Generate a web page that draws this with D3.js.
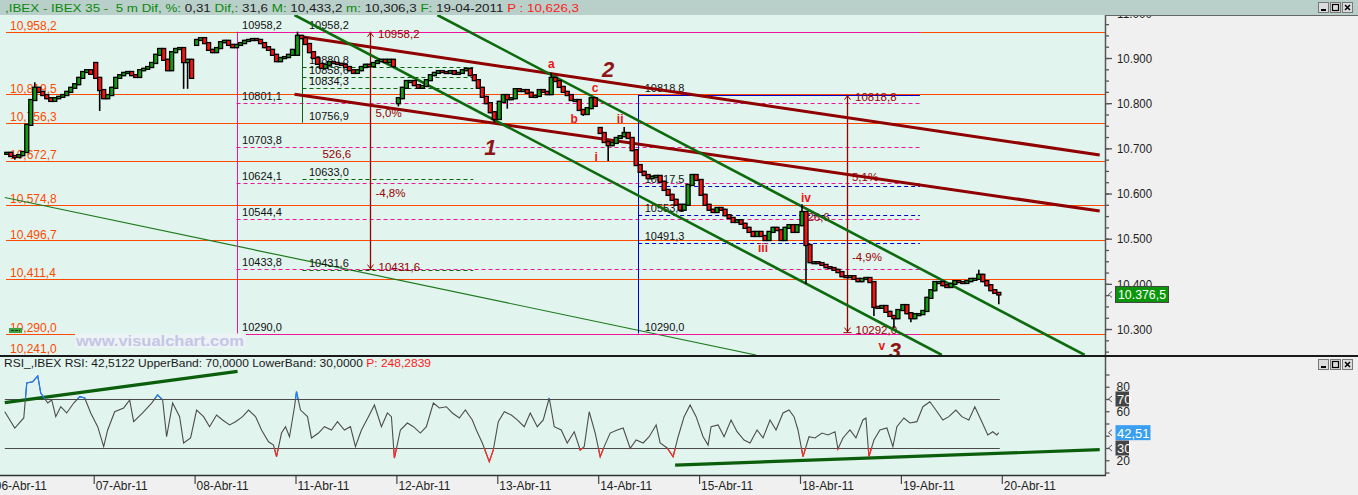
<!DOCTYPE html>
<html>
<head>
<meta charset="utf-8">
<script src="https://cdn.jsdelivr.net/npm/d3@7/dist/d3.min.js"></script>
<style>
html,body{margin:0;padding:0;overflow:hidden;background:#f0f0f0}
svg{display:block}
text{font-family:"Liberation Sans",Arial,sans-serif;white-space:pre}
</style>
</head>
<body>
<svg id="chart" width="1358" height="495"></svg>
<script>
// ================= DATA =================
const dayLabels = ["06-Abr-11","07-Abr-11","08-Abr-11","11-Abr-11","12-Abr-11","13-Abr-11","14-Abr-11","15-Abr-11","18-Abr-11","19-Abr-11","20-Abr-11"];
const barsPerDay = 101;   // 5-minute bars per session
const barStep = 4;        // one drawn candle every 4 bars

// close of each drawn candle, per session
const close06 = [null,null,null,10690,10683,10681,10685,10692,10752,10807,10834,10825,10818,10811,10805,10811,10814,10818,10825,10834,10842,10856,10869,10873,10865];
const close07 = [10856,10829,10811,10818,10834,10856,10862,10867,10869,10862,10858,10873,10876,10880,10889,10907,10920,10896,10873,10913,10920,10922,10891,10896,10856];
const close08 = [10940,10944,10933,10918,10913,10922,10935,10938,10929,10924,10929,10933,10938,10940,10942,10940,10933,10924,10918,10907,10893,10900,10902,10907,10918];
const close11 = [10949,10944,10931,10913,10900,10887,10878,10885,10891,10889,10887,10885,10880,10873,10867,10873,10880,10885,10882,10889,10893,10896,10891,10896,10882];
const close12 = [10811,10834,10849,10849,10840,10834,10838,10851,10862,10867,10871,10869,10867,10871,10865,10867,10873,10876,10862,10851,10834,10814,10800,10780,10765];
const close13 = [10803,10818,10809,10811,10831,10827,10829,10823,10814,10816,10829,10825,10820,10856,10849,10836,10825,10818,10807,10807,10785,10776,10789,10811,10794];
const close14 = [10734,10714,10707,10712,10723,10727,10734,10723,10696,10663,10648,10641,10634,10637,10639,10626,10608,10597,10586,10575,10564,10575,10619,10641,10630];
const close15 = [10597,10575,10564,10559,10568,10564,10552,10546,10537,10541,10533,10524,10515,10506,10515,10506,10497,10515,10524,10519,10497,10524,10530,10515,10530];
const close18 = [10559,10486,10448,10448,10446,10442,10437,10435,10431,10426,10417,10415,10417,10411,10406,10411,10413,10404,10349,10347,10351,10338,10329,10324,10342];
const close19 = [10353,10335,10324,10333,10333,10340,10369,10386,10404,10404,10397,10393,10400,10406,10404,10402,10406,10411,10411,10420,10406,10397,10386,10380,10376.5];
// opening price of the first candle of each session (null = previous close)
const dayOpens = [10690,10889,10929,10907,10800,null,10745,null,null,null];
// long wicks [session, candle, price]
const wickHighs = [[0,10,10844],[3,0,10956],[5,13,10865],[6,6,10745],[8,0,10574],[9,19,10429]];
const wickLows = [[0,5,10677],[1,1,10785],[1,22,10834],[1,23,10834],[4,0,10795],[4,24,10760],[5,2,10790],[5,21,10774],[6,2,10674],[8,1,10402],[8,18,10331],[8,23,10304],[9,2,10317],[9,24,10357]];
const lastPrice = 10376.5;

// horizontal levels (orange)
const orangeLevels = [10958.2,10819.5,10756.3,10672.7,10574.8,10496.7,10411.4,10290.0];
const orangeExtraLabel = 10241.0;
// Fibonacci (pink)
const pinkFibBars = [244, 928];
const pinkFibLevels = [10958.2,10801.1,10703.8,10624.1,10544.4,10433.8,10290.0];
// Fibonacci (green)
const greenFibBars = [310, 481];
const greenFibRange = [10958.2, 10756.9];
const greenFibLevels = [10880.8,10858.6,10834.3,10633.0,10431.6];
const greenFibLabels = [10958.2,10880.8,10858.6,10834.3,10756.9,10633.0,10431.6];
// Fibonacci (blue)
const blueFibBars = [646, 928];
const blueFibLevels = [10818.8,10617.5,10553.1,10491.3,10290.0];
// measuring arrows
const measureBars = [378, 855];
const measureFrom = [10958.2, 10818.8];
const measureTo = [10431.6, 10292.0];
const measureLabels = [[383,10769.4,"5,0%"],[330,10678.6,"526,6"],[383,10592.3,"-4,8%"],[860,10628.4,"5,1%"],[809,10539.8,"526,6"],[860,10451.2,"-4,9%"]];
// trend lines [[bar, price],[bar, price]]
const redTrend = [[[304,10948.7],[1108,10685.2]], [[302,10819.6],[1108,10561.3]]];
const greenChannel = [[[445,10995.2],[1093,10242.5]], [[302,10995.2],[950,10242.5]]];
const greenThin = [[12,10591.1],[764,10242.5]];
// Elliott wave labels [text, bar, price]
const waveMajor = [["1",498,10703],["2",616,10875.6],["3",903,10253.5]];
const waveMinor = [["a",559,10886.7],["b",582,10765],["c",603,10833.6],["i",604,10680.8],["ii",628,10765],["iii",771,10479.4],["iv",814,10590],["v",890,10262.4]];
// price axis
const priceTickLabels = [10300,10400,10500,10600,10700,10800,10900,11000];
const priceMinorStep = 25;

// RSI [bar, value]
const rsiPoints = [[12,59.6],[22,46.3],[31,54.5],[34,83.1],[40,84.1],[45,88.8],[48,74.9],[55,66.7],[59,69.2],[63,55.6],[68,63.7],[74,58.6],[81,66.7],[87,71.9],[92,70.8],[98,58.6],[105,47.4],[111,31.1],[115,44.7],[122,59.6],[131,62.7],[137,69.2],[141,51.5],[150,58.6],[159,66.7],[165,73.3],[170,69.2],[174,39.2],[180,66.7],[187,55.6],[191,34.1],[198,38.2],[204,61.0],[211,55.6],[217,47.4],[224,56.9],[230,52.9],[237,48.8],[243,51.5],[250,55.6],[256,61.0],[263,55.6],[269,44.7],[276,35.1],[281,32.4],[284,22.9],[289,42.2],[293,47.4],[297,39.2],[302,63.7],[304,76.0],[308,61.0],[315,55.6],[319,38.2],[326,42.2],[332,47.4],[339,44.7],[345,51.5],[352,44.7],[358,47.4],[363,31.1],[369,44.7],[376,55.6],[382,65.1],[389,47.4],[395,58.6],[399,55.6],[402,21.8],[408,44.7],[415,50.4],[421,47.4],[428,42.2],[434,47.4],[441,66.7],[447,62.7],[454,63.7],[460,58.6],[467,54.5],[473,61.0],[480,52.9],[484,44.7],[490,34.1],[497,18.8],[501,28.4],[506,51.5],[512,59.6],[519,56.9],[525,52.9],[532,47.4],[538,58.6],[545,47.4],[551,52.9],[557,70.8],[562,47.4],[569,44.7],[575,34.1],[582,43.3],[588,28.4],[592,31.1],[597,59.6],[603,42.2],[608,22.9],[612,31.1],[618,42.2],[625,44.7],[631,46.3],[638,29.8],[644,36.5],[651,34.1],[657,39.2],[664,48.8],[668,34.1],[675,30.0],[681,22.9],[686,39.2],[692,55.6],[698,65.1],[704,55.6],[711,39.2],[716,32.4],[719,47.4],[726,48.8],[732,39.2],[739,52.9],[745,43.3],[752,36.5],[758,34.1],[765,44.7],[771,38.2],[778,52.9],[784,44.7],[791,58.6],[797,61.0],[802,55.6],[806,44.7],[811,22.9],[817,39.2],[823,38.2],[830,42.2],[836,40.6],[843,43.3],[846,29.2],[851,38.2],[858,44.7],[864,38.2],[871,52.9],[874,54.5],[877,22.9],[882,36.5],[888,44.7],[895,46.3],[901,31.1],[905,47.4],[912,54.5],[918,50.4],[925,51.5],[931,63.7],[938,67.8],[944,61.0],[951,52.9],[957,55.6],[964,61.0],[970,55.6],[977,52.9],[983,63.7],[990,51.5],[996,40.6],[1001,43.3],[1005,40.6],[1007,42.51]];
const rsiBands = [70, 30];
const rsiBandBars = [12, 1008];
const rsiTrend = [[[12,67.0],[245,92.6]], [[683,16.1],[1108,28.6]]];
const rsiTicks = [10,20,30,40,50,60,70,80,90];
const rsiTickLabels = [80,60,20];
const rsiLast = 42.51;

// header texts
const headerParts = [[",IBEX - IBEX 35 -  5 m Dif, %:","g"],[" 0,31 ","k"],["Dif,:","g"],[" 31,6 ","k"],["M:","g"],[" 10,433,2 ","k"],["m:","g"],[" 10,306,3 ","k"],["F:","g"],[" 19-04-2011 ","k"],["P : 10,626,3","r"]];
const rsiHeaderParts = [["RSI_,IBEX RSI: 42,5122 UpperBand: 70,0000 LowerBand: 30,0000 ","k"],["P: 248,2839","r"]];

// ================= DRAWING =================
const svg = d3.select('#chart');
const x = d3.scaleLinear().domain([0, 1010]).range([-7.2, 1001.8]);
const y = d3.scaleLinear().domain([10242.5, 10995.2]).range([355, 15]);
const yr = d3.scaleLinear().domain([30, 70]).range([448, 399]);

const C = {bg:'#e1f4ee', panel:'#f0f0f0', head:'#b9cfc9', orange:'#ff4a00', pink:'#f0169a', green:'#0b640b', red:'#990000', blue:'#0000cc', label:'#111'};
const fmtDec = v => v.toFixed(1).replace('.', ',');
const fmtOrange = v => { const s = v.toFixed(1).split('.'); return s[0].slice(0, s[0].length-3) + ',' + s[0].slice(-3) + ',' + s[1]; };
const loc = d3.formatLocale({decimal:",", thousands:".", grouping:[3], currency:["",""]});
const fmtAxis = loc.format(",.0f");
const fmtLast = loc.format(",.1f");

const defs = svg.append('defs');
defs.append('clipPath').attr('id','pclip').append('rect').attr('x',0).attr('y',15).attr('width',1105).attr('height',340);
defs.append('clipPath').attr('id','rclip').append('rect').attr('x',0).attr('y',357).attr('width',1105).attr('height',118);
defs.append('clipPath').attr('id','rhi').append('rect').attr('x',0).attr('y',357).attr('width',1105).attr('height',yr(70)-357);
defs.append('clipPath').attr('id','rlo').append('rect').attr('x',0).attr('y',yr(30)).attr('width',1105).attr('height',475-yr(30));

svg.append('rect').attr('width',1358).attr('height',495).attr('fill',C.panel);
svg.append('rect').attr('x',0).attr('y',15).attr('width',1105).attr('height',341).attr('fill',C.bg);
svg.append('rect').attr('x',0).attr('y',357).attr('width',1105).attr('height',118).attr('fill',C.bg);

// ---------- price panel ----------
const pg = svg.append('g').attr('clip-path','url(#pclip)');
const hline = (g, p, b0, b1, col, dash, w) => g.append('line')
  .attr('x1', typeof b0 === 'number' ? x(b0) : b0.px).attr('x2', typeof b1 === 'number' ? x(b1) : b1.px)
  .attr('y1', Math.round(y(p))+0.5).attr('y2', Math.round(y(p))+0.5)
  .attr('stroke', col).attr('stroke-width', w || 1).attr('stroke-dasharray', dash || null);
const vline = (g, b, p0, p1, col, w) => g.append('line')
  .attr('x1', Math.round(x(b))+0.5).attr('x2', Math.round(x(b))+0.5).attr('y1', y(p0)).attr('y2', y(p1))
  .attr('stroke', col).attr('stroke-width', w || 1);
const label = (g, px, py, txt, col, size) => g.append('text').attr('x', px).attr('y', py).attr('fill', col).attr('font-size', size || 11).text(txt);

// orange levels
orangeLevels.forEach(p => {
  hline(pg, p, {px:6}, {px:1105}, C.orange);
  label(pg, 10, y(p)-1.5, fmtOrange(p), C.orange, 12);
});
label(pg, 10, y(orangeExtraLabel)-2.5, fmtOrange(orangeExtraLabel), C.orange, 12);

// thin green trend
pg.append('line').attr('x1',x(greenThin[0][0])).attr('y1',y(greenThin[0][1])).attr('x2',x(greenThin[1][0])).attr('y2',y(greenThin[1][1]))
  .attr('stroke','#1f7a1f').attr('stroke-width',1.2);

// pink fib
pinkFibLevels.forEach((p, i) => {
  const solid = (i === 0 || i === pinkFibLevels.length-1);
  hline(pg, p, pinkFibBars[0], pinkFibBars[1], C.pink, solid ? null : '4,3');
  label(pg, x(pinkFibBars[0])+5.5, y(p)-2.5, fmtDec(p), C.label, 11);
});
vline(pg, pinkFibBars[0], pinkFibLevels[0], pinkFibLevels[pinkFibLevels.length-1], C.pink);

// green fib
greenFibLevels.forEach(p => hline(pg, p, greenFibBars[0], greenFibBars[1], C.green, '4,3'));
vline(pg, greenFibBars[0], greenFibRange[0] - 7, greenFibRange[1], C.green);
greenFibLabels.forEach(p => label(pg, x(greenFibBars[0])+6.5, y(p)-2.5, fmtDec(p), C.label, 11));

// blue fib
blueFibLevels.forEach((p, i) => {
  if (i === 0) hline(pg, p, blueFibBars[0], blueFibBars[1], C.blue);
  else if (i < blueFibLevels.length-1) hline(pg, p, blueFibBars[0], blueFibBars[1], C.blue, '4,3');
  label(pg, x(blueFibBars[0])+6.5, y(p)-2.5, fmtDec(p), C.label, 11);
});
vline(pg, blueFibBars[0], blueFibLevels[0], blueFibLevels[blueFibLevels.length-1], C.blue);

// measuring arrows
measureBars.forEach((b, i) => {
  vline(pg, b, measureFrom[i], measureTo[i], C.red, 1.3);
  const xx = Math.round(x(b))+0.5, y0 = y(measureFrom[i]), y1 = y(measureTo[i]);
  pg.append('path').attr('d', `M${xx-3},${y0+5}L${xx},${y0+1}L${xx+3},${y0+5}`).attr('fill','none').attr('stroke',C.red);
  pg.append('path').attr('d', `M${xx-3},${y1-5}L${xx},${y1-1}L${xx+3},${y1-5}M${xx-4},${y1}L${xx+4},${y1}`).attr('fill','none').attr('stroke',C.red);
  label(pg, xx+7.5, y0+6.5, fmtDec(measureFrom[i]), C.red, 11.5);
  label(pg, xx+8, y1+1.5, fmtDec(measureTo[i]), C.red, 11.5);
});
measureLabels.forEach(([b, p, t]) => label(pg, x(b), y(p), t, C.red, 11.5));

// trend lines
redTrend.forEach(l => pg.append('line').attr('x1',x(l[0][0])).attr('y1',y(l[0][1])).attr('x2',x(l[1][0])).attr('y2',y(l[1][1]))
  .attr('stroke','#900000').attr('stroke-width',3));
greenChannel.forEach(l => pg.append('line').attr('x1',x(l[0][0])).attr('y1',y(l[0][1])).attr('x2',x(l[1][0])).attr('y2',y(l[1][1]))
  .attr('stroke','#0d6a0d').attr('stroke-width',2.6));

// watermark
pg.append('rect').attr('x',75).attr('y',334).attr('width',171).attr('height',14).attr('fill','#edf3f5');
pg.append('text').attr('x',76).attr('y',346).attr('font-size',15).attr('font-weight','bold').attr('fill','#c3c6e6')
  .attr('textLength',168).attr('lengthAdjust','spacingAndGlyphs').text('www.visualchart.com');
pg.append('rect').attr('x',9).attr('y',328).attr('width',13).attr('height',5).attr('fill','#3fa03f');
pg.append('line').attr('x1',11).attr('x2',20).attr('y1',330.5).attr('y2',330.5).attr('stroke','#1a3a1a').attr('stroke-dasharray','3,1');

// candles
const dayCloses = [close06, close07, close08, close11, close12, close13, close14, close15, close18, close19];
const candles = [];
let prev = null;
dayCloses.forEach((arr, d) => {
  let first = true;
  arr.forEach((c, k) => {
    if (c === null) return;
    let o = prev;
    if (first && dayOpens[d] !== null) o = dayOpens[d];
    if (o === null) o = c;
    first = false;
    candles.push({d, k, bar: d*barsPerDay + k*barStep + 2, o, c, h: Math.max(o, c), l: Math.min(o, c)});
    prev = c;
  });
});
wickHighs.forEach(([d,k,p]) => { const cd = candles.find(q => q.d === d && q.k === k); if (cd) cd.h = Math.max(cd.h, p); });
wickLows.forEach(([d,k,p]) => { const cd = candles.find(q => q.d === d && q.k === k); if (cd) cd.l = Math.min(cd.l, p); });

const cg = pg.append('g');
cg.selectAll('line').data(candles).join('line')
  .attr('x1', d => x(d.bar)).attr('x2', d => x(d.bar))
  .attr('y1', d => y(d.h)-1).attr('y2', d => y(d.l)+1)
  .attr('stroke','#000').attr('stroke-width',1.6);
cg.selectAll('rect').data(candles).join('rect')
  .attr('x', d => x(d.bar)-2).attr('width', 4)
  .attr('y', d => y(Math.max(d.o, d.c))-0.5).attr('height', d => Math.max(2, Math.abs(y(d.o)-y(d.c))+1))
  .attr('fill', d => d.c >= d.o ? '#119c11' : '#ff1010').attr('stroke','#000').attr('stroke-width',1.3);

// Elliott labels
waveMajor.forEach(([t,b,p]) => pg.append('text').attr('x',x(b)).attr('y',y(p)).attr('dy','0.36em').attr('text-anchor','middle')
  .attr('font-family','"Liberation Serif","DejaVu Serif",serif').attr('font-style','italic').attr('font-weight','bold')
  .attr('font-size',22).attr('fill','#8e1616').text(t));
waveMinor.forEach(([t,b,p]) => pg.append('text').attr('x',x(b)).attr('y',y(p)).attr('dy','0.36em').attr('text-anchor','middle')
  .attr('font-weight','bold').attr('font-size',12).attr('fill','#ee1414').text(t));

// ---------- RSI panel ----------
const rg = svg.append('g').attr('clip-path','url(#rclip)');
rsiBands.forEach(v => rg.append('line').attr('x1',x(rsiBandBars[0])).attr('x2',x(rsiBandBars[1]))
  .attr('y1',Math.round(yr(v))+0.5).attr('y2',Math.round(yr(v))+0.5).attr('stroke','#4a4a4a').attr('stroke-width',1.2));
rsiTrend.forEach(l => rg.append('line').attr('x1',x(l[0][0])).attr('y1',yr(l[0][1])).attr('x2',x(l[1][0])).attr('y2',yr(l[1][1]))
  .attr('stroke','#0b5e0b').attr('stroke-width',3.2));
const rline = d3.line().x(d => x(d[0])).y(d => yr(d[1]));
rg.append('path').datum(rsiPoints).attr('d', rline).attr('fill','none').attr('stroke','#4d4d4d').attr('stroke-width',1.1);
rg.append('g').attr('clip-path','url(#rhi)').append('path').datum(rsiPoints).attr('d', rline).attr('fill','none').attr('stroke','#1f7fff').attr('stroke-width',1.2);
rg.append('g').attr('clip-path','url(#rlo)').append('path').datum(rsiPoints).attr('d', rline).attr('fill','none').attr('stroke','#ff2a2a').attr('stroke-width',1.2);

// RSI header
const rh = svg.append('text').attr('x',4).attr('y',367).attr('font-family','"DejaVu Sans Mono","Liberation Mono",monospace')
  .attr('font-size',11).attr('textLength',427).attr('lengthAdjust','spacingAndGlyphs');
rsiHeaderParts.forEach(([t,c]) => rh.append('tspan').attr('fill', c === 'r' ? '#ff1a1a' : '#1a1a1a').text(t));

// ---------- frames & axes ----------
svg.append('line').attr('x1',0).attr('x2',1358).attr('y1',356).attr('y2',356).attr('stroke','#1a1a1a').attr('stroke-width',2);
svg.append('line').attr('x1',1105.5).attr('x2',1105.5).attr('y1',15).attr('y2',355).attr('stroke','#555').attr('stroke-width',1.5);
svg.append('line').attr('x1',1105.5).attr('x2',1105.5).attr('y1',357).attr('y2',475).attr('stroke','#555').attr('stroke-width',1.5);
svg.append('line').attr('x1',0).attr('x2',1106).attr('y1',475.5).attr('y2',475.5).attr('stroke','#333').attr('stroke-width',1.6);

// price axis
const minorTicks = d3.range(10250, 11001, priceMinorStep);
const pa1 = svg.append('g').attr('transform','translate(1105.5,0)')
  .call(d3.axisRight(y).tickValues(minorTicks).tickSize(3.5).tickFormat(''));
const pa2 = svg.append('g').attr('transform','translate(1105.5,0)')
  .call(d3.axisRight(y).tickValues(priceTickLabels).tickSize(6.5).tickPadding(5).tickFormat(fmtAxis));
[pa1, pa2].forEach(g => { g.select('.domain').remove(); g.selectAll('line').attr('stroke','#555').attr('stroke-width',1.3); });
pa2.selectAll('text').attr('font-family','"Liberation Sans",Arial,sans-serif').attr('font-size',13).attr('fill','#222')
  .attr('textLength',35).attr('lengthAdjust','spacingAndGlyphs');

// last price box
const ly = y(lastPrice);
svg.append('path').attr('d',`M1112,${ly-3}L1108.5,${ly}L1112,${ly+3}`).attr('fill','none').attr('stroke','#555');
svg.append('rect').attr('x',1115.5).attr('y',ly-8).attr('width',53).attr('height',16).attr('fill','#0a950a').attr('stroke','#444');
svg.append('text').attr('x',1118).attr('y',ly+5).attr('font-size',13).attr('fill','#fff').attr('textLength',48).attr('lengthAdjust','spacingAndGlyphs').text(fmtLast(lastPrice));

// RSI axis
const ra = svg.append('g').attr('transform','translate(1105.5,0)')
  .call(d3.axisRight(yr).tickValues(rsiTicks).tickSize(4).tickPadding(7).tickFormat(d => rsiTickLabels.includes(d) ? d : ''));
ra.select('.domain').remove();
ra.selectAll('line').attr('stroke','#555').attr('stroke-width',1.3);
ra.selectAll('text').attr('font-family','"Liberation Sans",Arial,sans-serif').attr('font-size',12).attr('fill','#222');
const rsiBox = (v, txt, fill, w) => {
  const yy = yr(v);
  svg.append('path').attr('d',`M1112,${yy-3}L1108.5,${yy}L1112,${yy+3}`).attr('fill','none').attr('stroke','#555');
  svg.append('rect').attr('x',1115.5).attr('y',yy-7.5).attr('width',w).attr('height',15).attr('fill',fill);
  svg.append('text').attr('x',1117).attr('y',yy+5).attr('font-size',13).attr('fill','#fff').text(txt);
};
rsiBox(rsiBands[0], String(rsiBands[0]), '#444', 13.5);
rsiBox(rsiBands[1], String(rsiBands[1]), '#444', 13.5);
rsiBox(rsiLast, rsiLast.toFixed(2).replace('.', ','), '#3a9ff0', 35);

// date axis
const dayBars = dayLabels.map((_, i) => i * barsPerDay);
const xa = svg.append('g').attr('transform','translate(0,476)')
  .call(d3.axisBottom(x).tickValues(dayBars).tickSize(8).tickFormat((d, i) => dayLabels[i]));
xa.select('.domain').remove();
xa.selectAll('line').attr('stroke','#444').attr('stroke-width',1.2);
xa.selectAll('text').attr('text-anchor','start').attr('x',1.5).attr('y',13.5).attr('dy',null)
  .attr('font-family','"Liberation Sans",Arial,sans-serif').attr('font-size',12.5).attr('fill','#222')
  .attr('textLength',52).attr('lengthAdjust','spacingAndGlyphs');

// ---------- header ----------
svg.append('rect').attr('x',0).attr('y',0).attr('width',1358).attr('height',15).attr('fill',C.head);
svg.append('line').attr('x1',1105).attr('x2',1358).attr('y1',15.5).attr('y2',15.5).attr('stroke','#666');
const ht = svg.append('text').attr('x',5).attr('y',11.5).attr('font-family','"DejaVu Sans Mono","Liberation Mono",monospace')
  .attr('font-size',11.5).attr('textLength',574).attr('lengthAdjust','spacingAndGlyphs');
headerParts.forEach(([t,c]) => ht.append('tspan').attr('fill', c === 'g' ? '#0b8a0b' : c === 'r' ? '#ff1a1a' : '#202020').text(t));

// window buttons
const buttons = (y0) => {
  [1318, 1330, 1342].forEach((bx, i) => {
    svg.append('rect').attr('x',bx+0.5).attr('y',y0+0.5).attr('width',10).attr('height',10).attr('fill','#dcdcdc').attr('stroke','#777');
    if (i === 0) svg.append('line').attr('x1',bx+3).attr('x2',bx+8).attr('y1',y0+8).attr('y2',y0+8).attr('stroke','#000').attr('stroke-width',2);
    if (i === 1) svg.append('rect').attr('x',bx+2.5).attr('y',y0+2.5).attr('width',6).attr('height',6).attr('fill','none').attr('stroke','#000').attr('stroke-width',1.2);
    if (i === 2) svg.append('path').attr('d',`M${bx+3},${y0+3}L${bx+8},${y0+8}M${bx+8},${y0+3}L${bx+3},${y0+8}`).attr('stroke','#000').attr('stroke-width',1.5);
  });
};
buttons(2);
buttons(359);
</script>
</body>
</html>
